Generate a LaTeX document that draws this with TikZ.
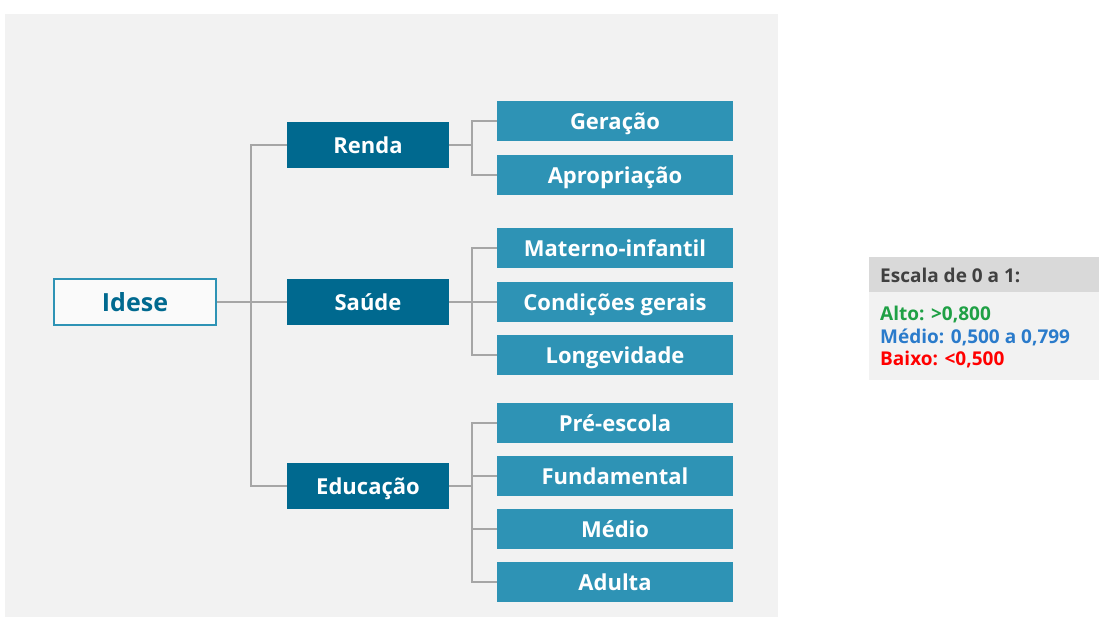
\documentclass[tikz,border=0pt]{standalone}
\usepackage{fontspec}
\setmainfont{Open Sans}
\usetikzlibrary{positioning}
\definecolor{panelgray}{HTML}{F2F2F2}
\definecolor{darkteal}{HTML}{00698F}
\definecolor{leafteal}{HTML}{2E93B5}
\definecolor{linegray}{HTML}{A6A6A6}
\definecolor{headgray}{HTML}{D9D9D9}
\definecolor{altogreen}{HTML}{1FA045}
\definecolor{mediblue}{HTML}{2A7BCB}
\tikzset{
  rootbox/.style={rectangle, draw=leafteal, line width=2.5pt, fill=white!60!panelgray, minimum width=162pt, minimum height=46pt, text=darkteal, text height=18pt, text depth=0pt, font=\bfseries\fontsize{25}{28}\selectfont},
  dimbox/.style={rectangle, fill=darkteal, minimum width=162pt, minimum height=46pt, text=white, text height=16pt, text depth=0pt, font=\bfseries\fontsize{22}{25}\selectfont},
  leafbox/.style={rectangle, fill=leafteal, minimum width=236pt, minimum height=40pt, text=white, text height=16pt, text depth=0pt, font=\bfseries\fontsize{22}{25}\selectfont},
  legtext/.style={anchor=west, inner sep=0pt, text height=14pt, text depth=0pt, font=\bfseries\fontsize{19}{22}\selectfont},
  link/.style={draw=linegray, line width=1.5pt}
}
\begin{document}
\begin{tikzpicture}[x=1pt, y=-1pt]
    \useasboundingbox (0,0) rectangle (1099,618);
    \fill[panelgray] (5,14) rectangle (778,617);

        % Nodes
        \node (idese) [rootbox] at (135,302) {Idese};
        \node (renda) [dimbox] at (368,145) {Renda};
        \node (saude) [dimbox] at (368,302) {Saúde};
        \node (educ) [dimbox] at (368,486) {Educação};

        \node (geracao) [leafbox] at (615,121) {Geração};
        \node (apropr) [leafbox] at (615,175) {Apropriação};
        \node (materno) [leafbox] at (615,248) {Materno-infantil};
        \node (condic) [leafbox] at (615,302) {Condições gerais};
        \node (longev) [leafbox] at (615,355) {Longevidade};
        \node (preesc) [leafbox] at (615,423) {Pré-escola};
        \node (fundam) [leafbox] at (615,476) {Fundamental};
        \node (medio) [leafbox] at (615,529) {Médio};
        \node (adulta) [leafbox] at (615,582) {Adulta};

        % Joints
        \coordinate (trunk) at (251,302);
        \coordinate (rj) at (472,145);
        \coordinate (sj) at (472,302);
        \coordinate (ej) at (472,486);

        % Lines
        \draw [link] (idese.east) -- (saude.west);
        \draw [link] (renda.west) -| (trunk) |- (educ.west);
        \draw [link] (renda.east) -- (rj);
        \draw [link] (saude.east) -- (sj);
        \draw [link] (educ.east) -- (ej);
        \foreach \leaf in {geracao, apropr}
            \draw [link] (\leaf.west) -| (rj);
        \foreach \leaf in {materno, condic, longev}
            \draw [link] (\leaf.west) -| (sj);
        \foreach \leaf in {preesc, fundam, medio, adulta}
            \draw [link] (\leaf.west) -| (ej);

        % Legend
        \fill[headgray] (869,257) rectangle (1099,292);
        \fill[panelgray] (869,292) rectangle (1099,380);
        \node (scale) [legtext, text=black!75] at (880,275) {Escala de 0 a 1:};
        \node (alto) [legtext, text=altogreen] at (880,313) {Alto: >0,800};
        \node (medlev) [legtext, text=mediblue] at (880,336) {Médio: 0,500 a 0,799};
        \node (baixo) [legtext, text=red] at (880,358) {Baixo: <0,500};

\end{tikzpicture}
\end{document}
